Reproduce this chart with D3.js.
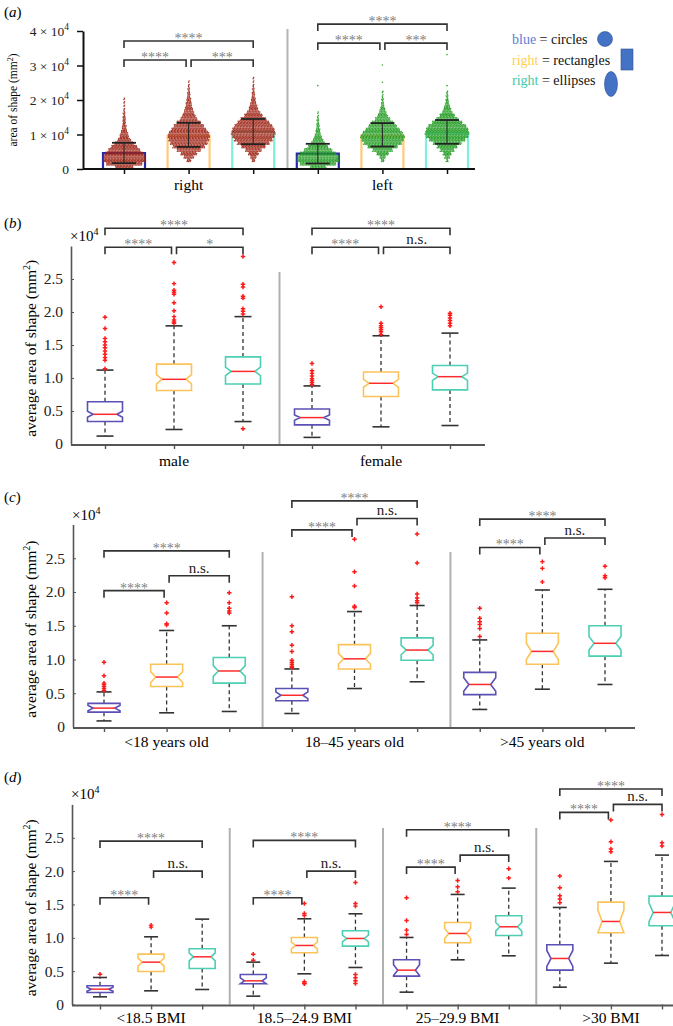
<!DOCTYPE html>
<html>
<head>
<meta charset="utf-8">
<script src="https://cdn.jsdelivr.net/npm/d3@7"></script>
<style>
body { margin: 0; background: #fff; }
text { font-family: "Liberation Serif", "Times New Roman", serif; }
</style>
</head>
<body>
<div id="chart"></div>
<script>
var width = 673, height = 1026;

// ---- panel (a): dot counts per 1000 mm2 bin, bar means, SD bars ----
var aGroups = ["right", "left"];
var aMeans = [4600, 9600, 10750, 4450, 9550, 10300];
var aErrLo = [1700, 6400, 7200, 1600, 6500, 7300];
var aErrHi = [7600, 13400, 14500, 7300, 13300, 14200];
var aRightCircles = [36,72,84,84,76,64,52,38,26,18,14,10,8,6,6,4,4,2,2,2,2];
var aRightRects = [0,0,8,20,32,48,64,74,80,84,80,70,60,48,34,26,20,16,12,10,8,6,4,4,2,2];
var aRightEllipses = [0,0,6,12,20,32,48,64,76,84,88,84,76,64,52,36,26,18,14,10,8,6,4,4,2,2,2];
var aLeftCircles = [32,72,84,84,72,56,40,28,20,14,10,8,6,4,4,2,2,0,0,0,0,0,0,0,1];
var aLeftRects = [0,0,6,12,24,40,60,76,84,88,80,68,56,44,30,20,14,10,6,4,4,2,2,0,0,1,0,0,0,0,1];
var aLeftEllipses = [0,0,4,10,16,28,40,56,72,84,88,84,76,60,44,30,20,14,10,6,4,4,2,0,1,0,0,0,0,0,0,0,0,1];
var aBracketLevels = [[37100, 31600, 31600], [42000, 36500, 36500]];
var aBracketLabels = [["****", "****", "***"], ["****", "****", "***"]];
var aTicks = [0, 1, 2, 3, 4];

// ---- panel (b): sex (values x10^4) ----
var bGroups = ["male", "female"];
var bLo = [0.12, 0.22, 0.34, 0.10, 0.26, 0.28];
var bQ1 = [0.34, 0.81, 0.91, 0.29, 0.72, 0.82];
var bMed = [0.45, 0.98, 1.10, 0.40, 0.92, 1.02];
var bQ3 = [0.64, 1.21, 1.32, 0.53, 1.09, 1.19];
var bHi = [1.12, 1.79, 1.93, 0.88, 1.64, 1.68];
var bNotch = [0.045, 0.07, 0.065, 0.04, 0.06, 0.055];
var bOut = [[1.14,1.27,1.31,1.36,1.41,1.46,1.50,1.55,1.60,1.75,1.92],
            [1.83,1.85,1.88,1.93,2.02,2.14,2.27,2.30,2.33,2.43,2.75],
            [0.23,1.97,2.01,2.05,2.21,2.24,2.38,2.42,2.84],
            [0.90,0.93,0.96,0.99,1.03,1.07,1.11,1.22],
            [1.66,1.70,1.73,1.76,1.79,1.83,2.08],
            [1.79,1.83,1.87,1.91,1.95,1.98]];
var bBracketLevels = [[3.27, 2.98, 2.98], [3.27, 2.98, 2.98]];
var bBracketLabels = [["****", "****", "*"], ["****", "****", "n.s."]];

// ---- panel (c): age ----
var cGroups = ["<18 years old", "18\u201345 years old", ">45 years old"];
var cLo = [0.09, 0.21, 0.23, 0.20, 0.57, 0.67, 0.26, 0.56, 0.63];
var cQ1 = [0.22, 0.60, 0.65, 0.39, 0.86, 0.99, 0.48, 0.93, 1.05];
var cMed = [0.28, 0.74, 0.83, 0.47, 1.01, 1.14, 0.63, 1.12, 1.24];
var cQ3 = [0.35, 0.93, 1.03, 0.57, 1.22, 1.32, 0.81, 1.39, 1.50];
var cHi = [0.52, 1.43, 1.50, 0.86, 1.71, 1.80, 1.29, 2.03, 2.04];
var cNotch = [0.04, 0.08, 0.08, 0.05, 0.08, 0.07, 0.10, 0.12, 0.10];
var cOut = [[0.54,0.57,0.60,0.63,0.65,0.76,0.96],
            [1.51,1.53,1.69,1.84],
            [1.69,1.72,1.76,1.84,1.99],
            [0.88,0.90,0.93,0.96,0.99,1.12,1.21,1.41,1.50,1.93],
            [1.77,1.79,2.09,2.30,2.78],
            [1.84,1.87,1.91,1.97,2.43,2.86],
            [1.34,1.46,1.52,1.56,1.61,1.76],
            [2.15,2.35,2.45],
            [2.21,2.24,2.38]];
var cBracketLevels = [[2.61, 2.02, 2.24], [3.35, 2.92, 3.09], [3.08, 2.66, 2.80]];
var cBracketLabels = [["****", "****", "n.s."], ["****", "****", "n.s."], ["****", "****", "n.s."]];

// ---- panel (d): BMI ----
var dGroups = ["<18.5 BMI", "18.5\u201324.9 BMI", "25\u201329.9 BMI", ">30 BMI"];
var dLo = [0.115, 0.205, 0.225, 0.125, 0.46, 0.555, 0.185, 0.67, 0.73, 0.26, 0.62, 0.735];
var dQ1 = [0.18, 0.495, 0.54, 0.31, 0.775, 0.875, 0.425, 0.925, 1.035, 0.515, 1.075, 1.18];
var dMed = [0.23, 0.635, 0.715, 0.355, 0.885, 0.99, 0.515, 1.065, 1.165, 0.69, 1.245, 1.38];
var dQ3 = [0.28, 0.755, 0.835, 0.45, 1.005, 1.105, 0.67, 1.23, 1.33, 0.895, 1.535, 1.625];
var dHi = [0.405, 1.015, 1.28, 0.635, 1.285, 1.36, 1.005, 1.65, 1.745, 1.455, 2.145, 2.24];
var dNotch = [0.03, 0.06, 0.06, 0.045, 0.05, 0.05, 0.08, 0.075, 0.065, 0.12, 0.17, 0.14];
var dOut = [[0.455], [1.16,1.19], [], [0.665,0.755],
            [0.31,0.32,0.34,1.335,1.365,1.515],
            [0.315,0.355,0.40,0.45,1.475,1.515,1.83],
            [1.05,1.115,1.26,1.60], [1.69,1.765,1.86], [1.895,2.035],
            [1.525,1.58,1.63,1.75,1.925], [2.29,2.33,2.44,2.765], [2.375,2.425,2.85]];
var dBracketLevels = [[2.45, 1.60, 2.0], [2.46, 1.60, 2.0], [2.62, 2.06, 2.24], [3.23, 2.88, 3.0]];
var dBracketLabels = [["****", "****", "n.s."], ["****", "****", "n.s."], ["****", "****", "n.s."], ["****", "****", "n.s."]];

var boxTicks = [0, 0.5, 1, 1.5, 2, 2.5];
var legendWords = ["blue", "right", "right"];
var legendShapes = ["circles", "rectangles", "ellipses"];

var boxColors = ["#5b50b5", "#fbc45a", "#4dcfb4"];
var barColors = ["#2b2aa6", "#ffca7c", "#7ff0dc"];
var legendColors = ["#5b80d2", "#ffd050", "#45c9a6"];

var svg = d3.select("#chart").append("svg")
    .attr("width", width)
    .attr("height", height);

function panelTag(letter, y) {
    var t = svg.append("text").attr("x", 4).attr("y", y).style("font-size", "15px");
    t.append("tspan").text("(");
    t.append("tspan").style("font-style", "italic").text(letter);
    t.append("tspan").text(")");
}

// brackets: per group [big 0-2, small 0-1, small 1-2]
function drawBrackets(g, x, y, levels, labels) {
    var pairs = [[0, 2], [0, 1], [1, 2]];
    levels.forEach(function(lv, gi) {
        pairs.forEach(function(p, k) {
            var x1 = x(gi*3 + p[0]), x2 = x(gi*3 + p[1]),
                yy = y(lv[k]), lab = labels[gi][k];
            if (k === 1) x2 -= 2.5;
            if (k === 2) x1 += 2.5;
            g.append("path")
                .attr("d", "M" + x1 + "," + (yy + 7) + "V" + yy + "H" + x2 + "V" + (yy + 7))
                .attr("fill", "none")
                .attr("stroke", "#333")
                .attr("stroke-width", 1.6);
            var isStar = lab.indexOf("*") === 0;
            g.append("text")
                .attr("x", (x1 + x2) / 2)
                .attr("y", isStar ? yy + 2 : yy - 3)
                .attr("text-anchor", "middle")
                .style("font-size", isStar ? "14px" : "15px")
                .style("fill", isStar ? "#808080" : "#222")
                .text(lab);
        });
    });
}

function superLabel(sel, base, sup, supSize) {
    sel.append("tspan").text(base);
    sel.append("tspan").attr("dy", -6).style("font-size", supSize).text(sup);
}

// ================= panel (a) =================
(function() {
    var g = svg.append("g");
    var x = d3.scalePoint().domain(d3.range(6)).range([124, 447]);
    var y = d3.scaleLinear().domain([0, 40000]).range([169, 31]);
    var barW = 42, capW = 24;
    var counts = [aRightCircles, aRightRects, aRightEllipses, aLeftCircles, aLeftRects, aLeftEllipses];

    panelTag("a", 17);

    // separator
    g.append("line")
        .attr("x1", (x(2) + x(3)) / 2 + 2).attr("x2", (x(2) + x(3)) / 2 + 2)
        .attr("y1", 29).attr("y2", y(0))
        .attr("stroke", "#b4b4b4").attr("stroke-width", 2);

    // bars (outline only)
    aMeans.forEach(function(m, i) {
        var x0 = x(i) - barW / 2, x1 = x(i) + barW / 2;
        g.append("path")
            .attr("d", "M" + x0 + "," + y(0) + "V" + y(m) + "H" + x1 + "V" + y(0))
            .attr("fill", "none")
            .attr("stroke", barColors[i % 3])
            .attr("stroke-width", 2.2);
    });

    // dot swarm built from the bin counts
    var dots = [];
    counts.forEach(function(c, i) {
        c.forEach(function(n, k) {
            for (var r = 0; r < 3; r++) {
                var m = Math.floor((n + 2 - r) / 3);
                for (var j = 0; j < m; j++) {
                    dots.push({
                        x: x(i) + (j - (m - 1) / 2) * 1.5 + (r === 1 ? 0.5 : 0),
                        v: (k + (r + 0.5) / 3) * 1000,
                        side: i < 3 ? 0 : 1
                    });
                }
            }
        });
    });
    g.append("g").selectAll("circle").data(dots).enter().append("circle")
        .attr("cx", function(d) { return d.x; })
        .attr("cy", function(d) { return y(d.v); })
        .attr("r", 0.8)
        .attr("fill", function(d) { return d.side ? "#1f9a1f" : "#9e2516"; })
        .attr("fill-opacity", 0.9);

    // SD error bars
    aMeans.forEach(function(m, i) {
        var eg = g.append("g").attr("stroke", "#222").attr("stroke-width", 1.8);
        eg.append("line").attr("x1", x(i)).attr("x2", x(i))
            .attr("y1", y(aErrLo[i])).attr("y2", y(aErrHi[i])).attr("stroke-width", 1);
        [aErrLo[i], aErrHi[i]].forEach(function(v) {
            eg.append("line").attr("x1", x(i) - capW / 2).attr("x2", x(i) + capW / 2)
                .attr("y1", y(v)).attr("y2", y(v));
        });
    });

    // axes
    var yAxis = g.append("g")
        .attr("transform", "translate(83,0)")
        .call(d3.axisLeft(y).tickValues(aTicks.map(function(t) { return t * 1e4; }))
            .tickSize(6).tickSizeOuter(0).tickPadding(8).tickFormat(""));
    yAxis.select(".domain").attr("stroke", "#111").attr("stroke-width", 2);
    yAxis.selectAll(".tick line").attr("stroke", "#111").attr("stroke-width", 1.5);
    yAxis.selectAll(".tick").each(function(d) {
        var t = d3.select(this).select("text")
            .attr("x", -14).attr("dy", "0.35em")
            .style("font-size", "13.5px").style("fill", "#222")
            .attr("text-anchor", "end");
        if (d === 0) { t.text("0"); return; }
        t.append("tspan").text((d / 1e4) + " \u00d7 10");
        t.append("tspan").attr("dy", -6).style("font-size", "9.5px").text("4");
    });

    var xAxis = g.append("g")
        .attr("transform", "translate(0," + y(0) + ")")
        .call(d3.axisBottom(x).tickSize(5).tickSizeOuter(0).tickFormat(""));
    xAxis.select(".domain").remove();
    xAxis.selectAll(".tick line").attr("stroke", "#111").attr("stroke-width", 1.5);
    g.append("line").attr("x1", 83).attr("x2", 475)
        .attr("y1", y(0)).attr("y2", y(0))
        .attr("stroke", "#111").attr("stroke-width", 2.2);

    aGroups.forEach(function(name, gi) {
        g.append("text").attr("x", x(gi * 3 + 1)).attr("y", 190)
            .attr("text-anchor", "middle").style("font-size", "15.5px").text(name);
    });

    var yl = g.append("text")
        .attr("transform", "translate(13,100) rotate(-90)")
        .attr("text-anchor", "middle").attr("dy", "0.35em")
        .style("font-size", "11.5px");
    yl.append("tspan").text("area of shape (mm");
    yl.append("tspan").attr("dy", -4).style("font-size", "8px").text("2");
    yl.append("tspan").attr("dy", 4).text(")");

    drawBrackets(g, x, y, aBracketLevels, aBracketLabels);

    // legend
    var lg = svg.append("g");
    legendWords.forEach(function(w, i) {
        var t = lg.append("text").attr("x", 512).attr("y", 44 + i * 20.5)
            .style("font-size", "14px");
        t.append("tspan").style("fill", legendColors[i]).text(w);
        t.append("tspan").style("fill", "#111").text(" = " + legendShapes[i]);
    });
    lg.append("circle").attr("cx", 605).attr("cy", 39).attr("r", 7.5)
        .attr("fill", "#4472c4").attr("stroke", "#2f528f").attr("stroke-width", 0.6);
    lg.append("rect").attr("x", 621).attr("y", 49).attr("width", 12).attr("height", 21)
        .attr("fill", "#4472c4").attr("stroke", "#2f528f").attr("stroke-width", 0.6);
    lg.append("ellipse").attr("cx", 611).attr("cy", 84).attr("rx", 6.5).attr("ry", 12.5)
        .attr("fill", "#4472c4").attr("stroke", "#2f528f").attr("stroke-width", 0.6);
})();

// ================= box panels (b)-(d) =================
function boxPanel(p) {
    var g = svg.append("g");
    var n = p.med.length;
    var x = d3.scalePoint().domain(d3.range(n)).range(p.xRange);
    var y = d3.scaleLinear().domain([0, 3]).range([p.zero, p.zero - 3 * p.unit]);
    var w = p.boxW, ind = w * 0.16;

    panelTag(p.tag, p.tagY);

    // group separators
    for (var s = 1; s < p.groups.length; s++) {
        var sx = (x(s * 3 - 1) + x(s * 3)) / 2 + 2;
        g.append("line").attr("x1", sx).attr("x2", sx)
            .attr("y1", p.sepTop).attr("y2", y(0))
            .attr("stroke", "#b0b0b0").attr("stroke-width", 2);
    }

    // y axis
    var yAxis = g.append("g")
        .attr("transform", "translate(" + p.axisX + ",0)")
        .call(d3.axisLeft(y).tickValues(boxTicks).tickSize(-3).tickSizeOuter(0).tickPadding(8)
            .tickFormat(function(d) { return d === 0 ? "0" : d3.format(".1f")(d); }));
    yAxis.select(".domain").attr("stroke", "#555").attr("stroke-width", 1.6);
    yAxis.selectAll(".tick line").attr("stroke", "#555");
    yAxis.selectAll(".tick text").style("font-size", "15.5px").style("fill", "#222")
        .style("font-family", "'Liberation Serif', serif");

    var mult = g.append("text").attr("x", p.axisX - 1).attr("y", y(3) - 5)
        .style("font-size", "15px");
    superLabel(mult, "\u00d710", "4", "10px");

    var yl = g.append("text")
        .attr("transform", "translate(31," + y(1.45) + ") rotate(-90)")
        .attr("text-anchor", "middle").attr("dy", "0.35em")
        .style("font-size", "15.5px");
    yl.append("tspan").text("average area of shape (mm");
    yl.append("tspan").attr("dy", -6).style("font-size", "10px").text("2");
    yl.append("tspan").attr("dy", 6).text(")");

    // x axis
    var xAxis = g.append("g")
        .attr("transform", "translate(0," + y(0) + ")")
        .call(d3.axisBottom(x).tickSize(5).tickSizeOuter(0).tickFormat(""));
    xAxis.select(".domain").remove();
    xAxis.selectAll(".tick line").attr("stroke", "#555").attr("stroke-width", 1.4);
    g.append("line").attr("x1", p.axisX).attr("x2", p.xEnd)
        .attr("y1", y(0) + 1).attr("y2", y(0) + 1)
        .attr("stroke", "#555").attr("stroke-width", 2);

    p.groups.forEach(function(name, gi) {
        g.append("text").attr("x", x(gi * 3 + 1)).attr("y", p.labelY)
            .attr("text-anchor", "middle").style("font-size", "15.5px").text(name);
    });

    // boxes
    d3.range(n).forEach(function(i) {
        var cx = x(i), x0 = cx - w / 2, x1 = cx + w / 2,
            col = boxColors[i % 3],
            nHi = Math.min(p.q3[i], p.med[i] + p.notch[i]),
            nLo = Math.max(p.q1[i], p.med[i] - p.notch[i]);
        var bg = g.append("g");

        // whiskers
        [[p.q3[i], p.hi[i]], [p.q1[i], p.lo[i]]].forEach(function(seg) {
            bg.append("line").attr("x1", cx).attr("x2", cx)
                .attr("y1", y(seg[0])).attr("y2", y(seg[1]))
                .attr("stroke", "#333").attr("stroke-width", 1.3)
                .attr("stroke-dasharray", "4,3");
            bg.append("line").attr("x1", cx - p.capW / 2).attr("x2", cx + p.capW / 2)
                .attr("y1", y(seg[1])).attr("y2", y(seg[1]))
                .attr("stroke", "#333").attr("stroke-width", 1.6);
        });

        var pts = [[x0, p.q3[i]], [x1, p.q3[i]], [x1, nHi], [x1 - ind, p.med[i]], [x1, nLo],
                   [x1, p.q1[i]], [x0, p.q1[i]], [x0, nLo], [x0 + ind, p.med[i]], [x0, nHi]];
        bg.append("path")
            .attr("d", d3.line().x(function(d) { return d[0]; }).y(function(d) { return y(d[1]); })(pts) + "Z")
            .attr("fill", "#fff")
            .attr("stroke", col)
            .attr("stroke-width", 1.6);
        bg.append("line").attr("x1", x0 + ind).attr("x2", x1 - ind)
            .attr("y1", y(p.med[i])).attr("y2", y(p.med[i]))
            .attr("stroke", "#ff2b2b").attr("stroke-width", 1.5);

        bg.selectAll(".out").data(p.out[i]).enter().append("path")
            .attr("class", "out")
            .attr("transform", function(d) { return "translate(" + cx + "," + y(d) + ")"; })
            .attr("d", d3.symbol(d3.symbolCross).size(11))
            .attr("fill", "#ff1a1a");
    });

    drawBrackets(g, x, y, p.bracketLevels, p.bracketLabels);
}

boxPanel({
    tag: "b", tagY: 228, groups: bGroups,
    lo: bLo, q1: bQ1, med: bMed, q3: bQ3, hi: bHi, notch: bNotch, out: bOut,
    bracketLevels: bBracketLevels, bracketLabels: bBracketLabels,
    xRange: [105, 450], zero: 444, unit: 66, axisX: 71, xEnd: 485,
    boxW: 35, capW: 17, sepTop: 272, labelY: 466
});

boxPanel({
    tag: "c", tagY: 502, groups: cGroups,
    lo: cLo, q1: cQ1, med: cMed, q3: cQ3, hi: cHi, notch: cNotch, out: cOut,
    bracketLevels: cBracketLevels, bracketLabels: cBracketLabels,
    xRange: [104, 605], zero: 727, unit: 67.5, axisX: 73, xEnd: 635,
    boxW: 32, capW: 15, sepTop: 552, labelY: 747
});

boxPanel({
    tag: "d", tagY: 782, groups: dGroups,
    lo: dLo, q1: dQ1, med: dMed, q3: dQ3, hi: dHi, notch: dNotch, out: dOut,
    bracketLevels: dBracketLevels, bracketLabels: dBracketLabels,
    xRange: [100, 662], zero: 1004.5, unit: 66.7, axisX: 72, xEnd: 673,
    boxW: 26, capW: 14, sepTop: 828, labelY: 1023
});
</script>
</body>
</html>
